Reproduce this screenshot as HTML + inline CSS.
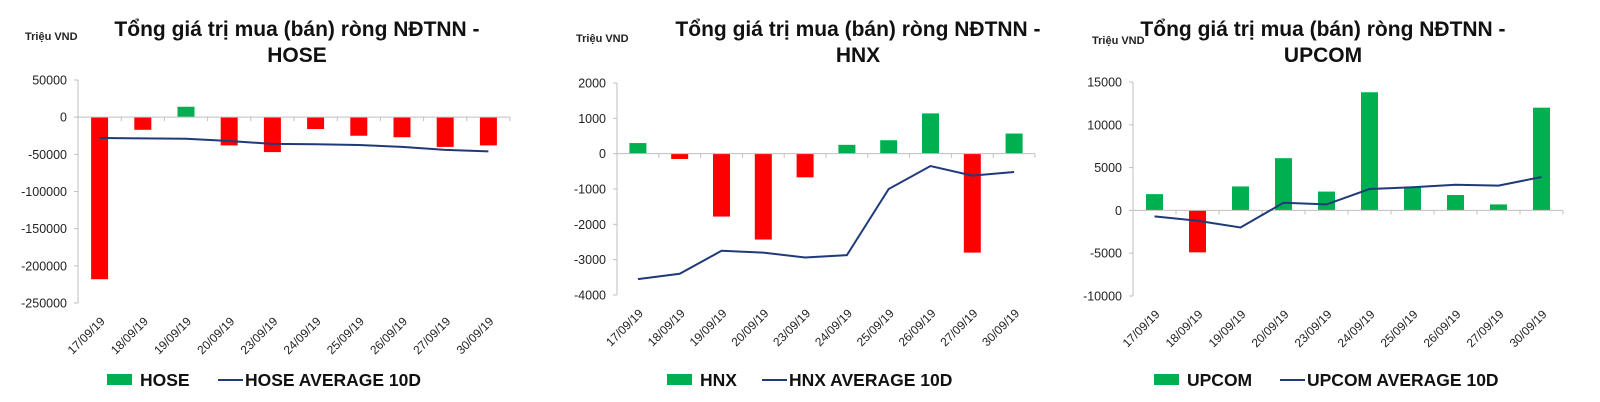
<!DOCTYPE html>
<html><head><meta charset="utf-8">
<style>
html,body{margin:0;padding:0;background:#fff;}
svg{display:block;font-family:"Liberation Sans",Arial,sans-serif;}
</style></head>
<body>
<svg id="chart" width="1600" height="402" viewBox="0 0 1600 402"></svg>
<script>
const categories = ["17/09/19","18/09/19","19/09/19","20/09/19","23/09/19","24/09/19","25/09/19","26/09/19","27/09/19","30/09/19"];
const hoseValues = [-218000,-17000,14000,-38000,-47000,-16000,-25000,-27000,-40000,-38000];
const hoseAvg = [-28000,-28500,-29000,-32000,-36000,-36500,-37500,-40000,-44000,-46000];
const hoseTicks = [50000,0,-50000,-100000,-150000,-200000,-250000];
const hnxValues = [300,-150,-1780,-2430,-670,250,380,1140,-2800,570];
const hnxAvg = [-3550,-3400,-2750,-2800,-2940,-2870,-1000,-350,-620,-520];
const hnxTicks = [2000,1000,0,-1000,-2000,-3000,-4000];
const upcomValues = [1900,-4900,2800,6100,2200,13800,2700,1800,700,12000];
const upcomAvg = [-700,-1200,-2000,900,700,2500,2700,3000,2900,3900];
const upcomTicks = [15000,10000,5000,0,-5000,-10000];

const NS = "http://www.w3.org/2000/svg";
const svg = document.getElementById("chart");
function mk(tag, attrs, parent, text){
  const e = document.createElementNS(NS, tag);
  for (const k in attrs) e.setAttribute(k, attrs[k]);
  if (text !== undefined) e.textContent = text;
  (parent || svg).appendChild(e);
  return e;
}

const panels = [
  {name:"hose", label:"HOSE", values:hoseValues, avg:hoseAvg, ticks:hoseTicks,
   x0:78, x1:510, yTop:80, yBot:303, titleX:297, unitX:25, unitY:40, legX:107, lineX:218},
  {name:"hnx", label:"HNX", values:hnxValues, avg:hnxAvg, ticks:hnxTicks,
   x0:617, x1:1035, yTop:83, yBot:295, titleX:858, unitX:576, unitY:42, legX:667, lineX:762},
  {name:"upcom", label:"UPCOM", values:upcomValues, avg:upcomAvg, ticks:upcomTicks,
   x0:1133, x1:1563, yTop:82, yBot:296, titleX:1323, unitX:1092, unitY:44, legX:1154, lineX:1280}
];

panels.forEach(p => {
  const g = mk("g", {});
  
  
  const maxT = p.ticks[0], minT = p.ticks[p.ticks.length-1];
  const y = v => p.yTop + (maxT - v) / (maxT - minT) * (p.yBot - p.yTop);
  const step = (p.x1 - p.x0) / categories.length;
  const xc = i => p.x0 + step * (i + 0.5);

  const t1 = mk("text", {x:p.titleX, y:36, "text-anchor":"middle", "font-size":"21", "font-weight":"bold", fill:"#111"}, g, "Tổng giá trị mua (bán) ròng NĐTNN -");
  
  
  const t2 = mk("text", {x:p.titleX, y:62, "text-anchor":"middle", "font-size":"21", "font-weight":"bold", fill:"#111"}, g, p.label);
  
  
  const u = mk("text", {x:p.unitX, y:p.unitY, "font-size":"11", "font-weight":"bold", fill:"#222"}, g, "Triệu VND");
  
  

  const ya = mk("line", {x1:p.x0, y1:p.yTop, x2:p.x0, y2:p.yBot, stroke:"#bfbfbf", "stroke-width":1}, g);
  
  
  p.ticks.forEach(t => {
    const tm = mk("line", {x1:p.x0-4, y1:y(t), x2:p.x0, y2:y(t), stroke:"#bfbfbf"}, g);
    
    
    const tl = mk("text", {x:p.x0-11, y:y(t)+4.5, "text-anchor":"end", "font-size":"12.5", fill:"#222"}, g, String(t));
    
    
  });

  p.values.forEach((v, i) => {
    const bw = 17;
    const top = Math.min(y(v), y(0)), h = Math.abs(y(v) - y(0));
    const b = mk("rect", {x:xc(i)-bw/2, y:top, width:bw, height:Math.max(h,0.5), fill: v >= 0 ? "#00b050" : "#ff0000"}, g);
    
    
  });

  const xa = mk("line", {x1:p.x0, y1:y(0), x2:p.x1, y2:y(0), stroke:"#bfbfbf", "stroke-width":1}, g);
  
  
  for (let i = 0; i <= categories.length; i++) {
    const xt = p.x0 + step * i;
    const tk = mk("line", {x1:xt, y1:y(0), x2:xt, y2:y(0)+4, stroke:"#bfbfbf"}, g);
    
    
  }

  const pts = p.avg.map((v, i) => xc(i).toFixed(1) + "," + y(v).toFixed(1)).join(" ");
  const ln = mk("polyline", {points:pts, fill:"none", stroke:"#1f3a7a", "stroke-width":2}, g);
  
  

  categories.forEach((c, i) => {
    const lx = xc(i) + 6, ly = p.yBot + 19;
    const tl = mk("text", {x:lx, y:ly, "text-anchor":"end", "font-size":"12", fill:"#222", transform:`rotate(-45 ${lx} ${ly})`}, g, c);
    
    
  });

  const lr = mk("rect", {x:p.legX, y:374, width:25, height:11, fill:"#00b050"}, g);
  
  
  const lt = mk("text", {x:p.legX+33, y:386, "font-size":"17.5", "font-weight":"bold", fill:"#111"}, g, p.label);
  
  
  const ll = mk("line", {x1:p.lineX, y1:380, x2:p.lineX+25, y2:380, stroke:"#1f3a7a", "stroke-width":2}, g);
  
  
  const lt2 = mk("text", {x:p.lineX+27, y:386, "font-size":"17.5", "font-weight":"bold", fill:"#111"}, g, p.label + " AVERAGE 10D");
  
  
});
</script>
</body></html>
